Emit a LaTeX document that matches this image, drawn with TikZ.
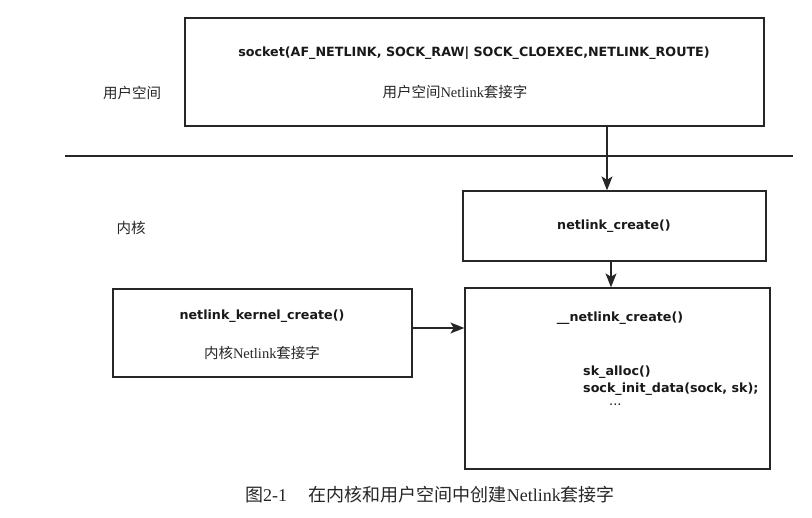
\documentclass[tikz,border=0pt]{standalone}
\usepackage{fontspec}
\setmainfont{Liberation Serif}
\newfontfamily\codefont{DejaVu Sans}
\newfontfamily\cjk{Noto Sans CJK SC}
\usetikzlibrary{arrows.meta}
\tikzset{
  boxnode/.style={draw=black!85, line width=1.3pt, rectangle, inner sep=0pt},
  codetxt/.style={font=\codefont\bfseries\fontsize{12.7}{15}\selectfont, inner sep=0pt, text=black!90},
  cntxt/.style={font=\cjk\fontsize{14.5}{17}\selectfont, inner sep=0pt, text=black!85},
  arr/.style={line width=1.2pt, draw=black!85, -{Stealth[length=14pt,width=11pt,inset=3.5pt]}},
}
\begin{document}
\begin{tikzpicture}[x=1pt,y=-1pt]
\useasboundingbox (0,0) rectangle (812,518);
% boxes
\node[boxnode, minimum width=579pt, minimum height=108pt] (top) at (474.5,72) {};
\node[boxnode, minimum width=303pt, minimum height=70pt] (nc) at (614.5,226) {};
\node[boxnode, minimum width=299pt, minimum height=88pt] (lk) at (262.5,333) {};
\node[boxnode, minimum width=305pt, minimum height=181pt] (unc) at (617.5,378.5) {};
% separator
\coordinate (sepL) at (65,156);
\coordinate (sepR) at (793,156);
\draw[line width=1.3pt, black!85] (sepL) -- (sepR);
% texts
\node[codetxt] (t1) at (474,53) {socket(AF\_NETLINK, SOCK\_RAW| SOCK\_CLOEXEC,NETLINK\_ROUTE)};
\node[cntxt] (t2) at (455,92) {用户空间{\rmfamily Netlink}套接字};
\node[cntxt] (us) at (132,93) {用户空间};
\node[cntxt] (kn) at (131,228) {内核};
\node[codetxt] (t3) at (614,226) {netlink\_create()};
\node[codetxt] (t4) at (262,316) {netlink\_kernel\_create()};
\node[cntxt] (t5) at (262,353) {内核{\rmfamily Netlink}套接字};
\node[codetxt] (t6) at (620,318) {\_\_netlink\_create()};
\node[codetxt, anchor=west] (t7) at (583,372) {sk\_alloc()};
\node[codetxt, anchor=west] (t8) at (583,389) {sock\_init\_data(sock, sk);};
\node[codetxt, font=\codefont\fontsize{13}{15}\selectfont, anchor=west] (t9) at (609,405) {...};
\node[font=\cjk\fontsize{18}{20}\selectfont, inner sep=0pt, text=black!85] (cap) at (430,495) {图{\rmfamily 2-1}\hspace{1.2em}在内核和用户空间中创建{\rmfamily Netlink}套接字};
% arrows
\coordinate (a1) at (607,0);
\coordinate (a2) at (611,0);
\coordinate (a3) at (0,328);
\draw[arr] (a1 |- top.south) -- (a1 |- nc.north);
\draw[arr] (a2 |- nc.south) -- (a2 |- unc.north);
\draw[arr] (lk.east |- a3) -- (unc.west |- a3);
\end{tikzpicture}
\end{document}
